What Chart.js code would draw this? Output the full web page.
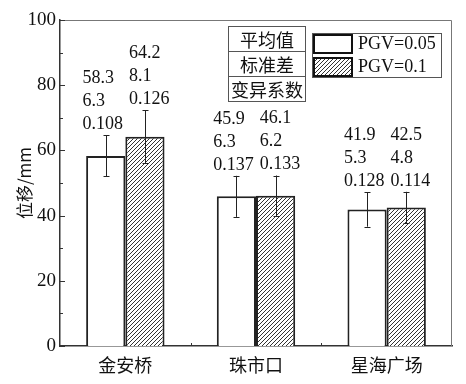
<!DOCTYPE html>
<html>
<head>
<meta charset="utf-8">
<script src="https://cdn.jsdelivr.net/npm/chart.js"></script>
<style>
  body { margin: 0; background: #fff; }
  #grafico { display: block; }
</style>
</head>
<body>
<canvas id="grafico" width="466" height="384"></canvas>
<script>
// Datos
const sitios = ['金安桥', '珠市口', '星海广场'];
const media005 = [58.3, 45.9, 41.9];
const desv005 = [6.3, 6.3, 5.3];
const cv005 = [0.108, 0.137, 0.128];
const media01 = [64.2, 46.1, 42.5];
const desv01 = [8.1, 6.2, 4.8];
const cv01 = [0.126, 0.133, 0.114];
const ticksY = [0, 20, 40, 60, 80, 100];
const etiquetasTabla = ['平均值', '标准差', '变异系数'];
const nombresSeries = ['PGV=0.05', 'PGV=0.1'];

const fuenteNum = '"Liberation Serif", "DejaVu Serif", serif';
const fuenteCJK = '"Noto Sans CJK SC", "Noto Sans CJK JP", sans-serif';

// Patrón rayado para la serie PGV=0.1
function crearRayado() {
  const s = 4;
  const c = document.createElement('canvas');
  c.width = s; c.height = s;
  const g = c.getContext('2d');
  g.fillStyle = '#fff';
  g.fillRect(0, 0, s, s);
  g.strokeStyle = '#333';
  g.lineWidth = 1;
  g.beginPath();
  g.moveTo(-1, s + 1); g.lineTo(s + 1, -1);
  g.moveTo(-1, 1); g.lineTo(1, -1);
  g.moveTo(s - 1, s + 1); g.lineTo(s + 1, s - 1);
  g.stroke();
  return g.createPattern(c, 'repeat');
}
const rayado = crearRayado();

// Plugin: marco, ticks interiores, barras de error, textos y leyenda
const extras = {
  id: 'extras',
  afterDatasetsDraw(chart) {
    const ctx = chart.ctx;
    const a = chart.chartArea;
    const y = chart.scales.y;
    const x = chart.scales.x;
    ctx.save();

    // marco superior y derecho
    ctx.strokeStyle = '#777';
    ctx.lineWidth = 1;
    ctx.beginPath();
    ctx.moveTo(a.left, a.top + 0.5); ctx.lineTo(a.right - 0.5, a.top + 0.5); ctx.lineTo(a.right - 0.5, a.bottom);
    ctx.stroke();

    // ticks del eje Y hacia dentro
    ctx.strokeStyle = '#333';
    ctx.beginPath();
    for (let v = 0; v <= 100; v += 10) {
      const py = Math.round(y.getPixelForValue(v)) + 0.5;
      const largo = v % 20 === 0 ? 5 : 3;
      ctx.moveTo(a.left, py); ctx.lineTo(a.left + largo, py);
    }
    // ticks entre categorías
    for (let i = 0; i < sitios.length - 1; i++) {
      const px = Math.round((x.getPixelForTick(i) + x.getPixelForTick(i + 1)) / 2) + 0.5;
      ctx.moveTo(px, a.bottom); ctx.lineTo(px, a.bottom - 3);
    }
    ctx.stroke();

    // barras de error y textos
    const medias = [media005, media01];
    const desvs = [desv005, desv01];
    const cvs = [cv005, cv01];
    ctx.font = '18px ' + fuenteNum;
    ctx.fillStyle = '#111';
    ctx.textBaseline = 'middle';
    ctx.textAlign = 'left';
    const bloques = [[], []];
    chart.data.datasets.forEach((ds, d) => {
      const meta = chart.getDatasetMeta(d);
      meta.data.forEach((bar, i) => {
        const m = medias[d][i], s = desvs[d][i];
        const yTop = y.getPixelForValue(m + s);
        const yBot = y.getPixelForValue(m - s);
        const cx = Math.round(bar.x) + 0.5;
        ctx.strokeStyle = '#222';
        ctx.lineWidth = 1;
        ctx.beginPath();
        ctx.moveTo(cx, yTop); ctx.lineTo(cx, yBot);
        ctx.moveTo(cx - 3, Math.round(yTop) + 0.5); ctx.lineTo(cx + 3, Math.round(yTop) + 0.5);
        ctx.moveTo(cx - 3, Math.round(yBot) + 0.5); ctx.lineTo(cx + 3, Math.round(yBot) + 0.5);
        ctx.stroke();

        const lineas = [m.toFixed(1), s.toFixed(1), cvs[d][i].toFixed(3)];
        const ancho = Math.max(...lineas.map(t => ctx.measureText(t).width));
        bloques[d][i] = { lineas, ancho, x0: bar.x - ancho / 2, yTop };
      });
    });
    // separar los bloques de texto que se tocan
    for (let i = 0; i < sitios.length; i++) {
      const b0 = bloques[0][i], b1 = bloques[1][i];
      const falta = (b0.x0 + b0.ancho + 6) - b1.x0;
      if (falta > 0) { b0.x0 -= falta * 0.4; b1.x0 += falta * 0.6; }
    }
    bloques.forEach(fila => fila.forEach(b => {
      b.lineas.forEach((t, k) => ctx.fillText(t, b.x0, b.yTop - 11 - (2 - k) * 23));
    }));

    // tabla de leyenda (平均值 / 标准差 / 变异系数)
    ctx.strokeStyle = '#555';
    ctx.lineWidth = 1;
    const tx = 228.5, ty = 26.5, tw = 77, th = 25;
    ctx.strokeRect(tx, ty, tw, th * 3);
    ctx.beginPath();
    ctx.moveTo(tx, ty + th); ctx.lineTo(tx + tw, ty + th);
    ctx.moveTo(tx, ty + 2 * th); ctx.lineTo(tx + tw, ty + 2 * th);
    ctx.stroke();
    ctx.font = '18px ' + fuenteCJK;
    ctx.textAlign = 'center';
    etiquetasTabla.forEach((t, k) => {
      ctx.fillText(t, tx + tw / 2, ty + th * k + th / 2 + 1);
    });

    // leyenda de series
    const lx = 312.5, ly = 33.5, lw = 129, lh = 44;
    ctx.strokeStyle = '#555';
    ctx.strokeRect(lx, ly, lw, lh);
    const fondos = ['#fff', rayado];
    ctx.font = '18px ' + fuenteNum;
    ctx.textAlign = 'left';
    nombresSeries.forEach((n, k) => {
      const sy = 34 + k * 23;
      ctx.fillStyle = fondos[k];
      ctx.fillRect(313, sy, 40, 20);
      ctx.strokeStyle = '#111';
      ctx.lineWidth = 2;
      ctx.strokeRect(314, sy + 1, 38, 18);
      ctx.fillStyle = '#111';
      ctx.fillText(n, 358, sy + 10);
    });

    ctx.restore();
  }
};

new Chart(document.getElementById('grafico'), {
  type: 'bar',
  data: {
    labels: sitios,
    datasets: [
      {
        label: nombresSeries[0],
        data: media005,
        backgroundColor: '#fff',
        borderColor: '#222',
        borderWidth: 2,
        categoryPercentage: 0.6,
        barPercentage: 1
      },
      {
        label: nombresSeries[1],
        data: media01,
        backgroundColor: rayado,
        borderColor: '#222',
        borderWidth: 2,
        categoryPercentage: 0.6,
        barPercentage: 1
      }
    ]
  },
  options: {
    responsive: false,
    animation: false,
    layout: { padding: { top: 20, right: 14, left: 14, bottom: 0 } },
    plugins: {
      legend: { display: false },
      tooltip: { enabled: false }
    },
    scales: {
      x: {
        grid: { display: false, drawTicks: false },
        border: { display: true, color: '#333', width: 1.5 },
        ticks: { color: '#111', font: { family: fuenteCJK, size: 18 }, padding: 8 },
        afterFit(s) { s.height = 38; }
      },
      y: {
        min: 0,
        max: 100,
        afterBuildTicks(s) { s.ticks = ticksY.map(v => ({ value: v })); },
        grid: { display: false, drawTicks: false },
        border: { display: true, color: '#333', width: 1.5 },
        ticks: { color: '#111', font: { family: fuenteNum, size: 19 }, padding: 4 },
        title: {
          display: true,
          text: '位移/mm',
          color: '#111',
          font: { family: fuenteCJK, size: 17 },
          padding: { top: 0, bottom: 2 }
        },
        afterFit(s) { s.width = 46; }
      }
    }
  },
  plugins: [extras]
});
</script>
</body>
</html>
